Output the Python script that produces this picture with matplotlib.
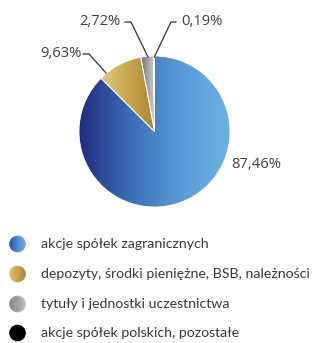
import numpy as np
import matplotlib
matplotlib.use("Agg")
import matplotlib.pyplot as plt
from matplotlib.colors import LinearSegmentedColormap
from matplotlib.patches import Circle

# Portfolio structure
categories = [
    "akcje spółek zagranicznych",
    "depozyty, środki pieniężne, BSB, należności",
    "tytuły i jednostki uczestnictwa",
    "akcje spółek polskich, pozostałe",
]
shares = [87.46, 9.63, 2.72, 0.19]
value_labels = ["87,46%", "9,63%", "2,72%", "0,19%"]

# Horizontal gradients (left colour -> right colour) for each slice
gradients = [
    ["#1d2c7c", "#3b6db5", "#5a9ad6", "#6cb1e2"],
    ["#e3c97c", "#c9a650", "#a8852c"],
    ["#6e6e6e", "#a6a6a6", "#cfcfcf"],
    ["#000000", "#1a1a1a"],
]
legend_gradients = [
    ["#2a4c9e", "#4f8ad0", "#6eb0e4"],
    ["#e2c672", "#c9a44c", "#a8842c"],
    ["#858585", "#a0a0a0", "#bdbdbd"],
    ["#000000", "#000000"],
]

W, H = 327, 343
fig = plt.figure(figsize=(W / 100, H / 100), dpi=100)
ax = fig.add_axes([0, 0, 1, 1])

def py(y):
    """Convert a top-down pixel row into axes y."""
    return H - y

cx, cy, r = 154.5, 131.5, 75.5
wedges, _ = ax.pie(shares, startangle=90, counterclock=False,
                   center=(cx, py(cy)), radius=r, frame=True,
                   wedgeprops=dict(linewidth=0.6, edgecolor="white"))
ax.set_xlim(0, W)
ax.set_ylim(0, H)
ax.set_aspect("equal")
ax.axis("off")

grad = np.linspace(0, 1, 256).reshape(1, -1)
for w, cols in zip(wedges, gradients):
    cmap = LinearSegmentedColormap.from_list("g", cols)
    verts = w.get_path().vertices
    x0, x1 = verts[:, 0].min(), verts[:, 0].max()
    y0, y1 = verts[:, 1].min(), verts[:, 1].max()
    im = ax.imshow(grad, cmap=cmap, extent=(x0, x1, y0, y1), aspect="auto",
                   interpolation="bilinear", zorder=1)
    im.set_clip_path(w)
    w.set_facecolor("none")
    w.set_zorder(2)

txt_col = "#404040"
lab_font = dict(family=["Open Sans", "DejaVu Sans"], size=10.6, color=txt_col)
line_kw = dict(color="#333333", lw=0.9)

# 87,46% - no leader
ax.text(231, py(164), value_labels[0], ha="left", va="center", **lab_font)

# 9,63%
ax.plot([83, 89, 106], [py(54), py(54), py(73)], **line_kw)
ax.text(81.5, py(53.5), value_labels[1], ha="right", va="center", **lab_font)
# 2,72%
ax.plot([125, 131, 148], [py(22), py(22), py(57)], **line_kw)
ax.text(121, py(21.5), value_labels[2], ha="right", va="center", **lab_font)
# 0,19%
ax.plot([176, 171, 154.3], [py(22), py(22), py(57)], **line_kw)
ax.text(181, py(21.5), value_labels[3], ha="left", va="center", **lab_font)

# Legend
leg_font = dict(family=["Lato", "DejaVu Sans"], size=10.15, color="#3a3a3a")
rows = [244, 274, 304, 333]
for yrow, name, cols in zip(rows, categories, legend_gradients):
    c = Circle((17.5, py(yrow)), 8.3, facecolor="none", edgecolor="none")
    ax.add_patch(c)
    cmap = LinearSegmentedColormap.from_list("lg", cols)
    im = ax.imshow(grad, cmap=cmap, extent=(9, 26, py(yrow) - 9, py(yrow) + 9),
                   aspect="auto", interpolation="bilinear", zorder=1)
    im.set_clip_path(c)
    ax.text(41, py(yrow), name, ha="left", va="center", **leg_font)

fig.savefig("out.png", dpi=100)
